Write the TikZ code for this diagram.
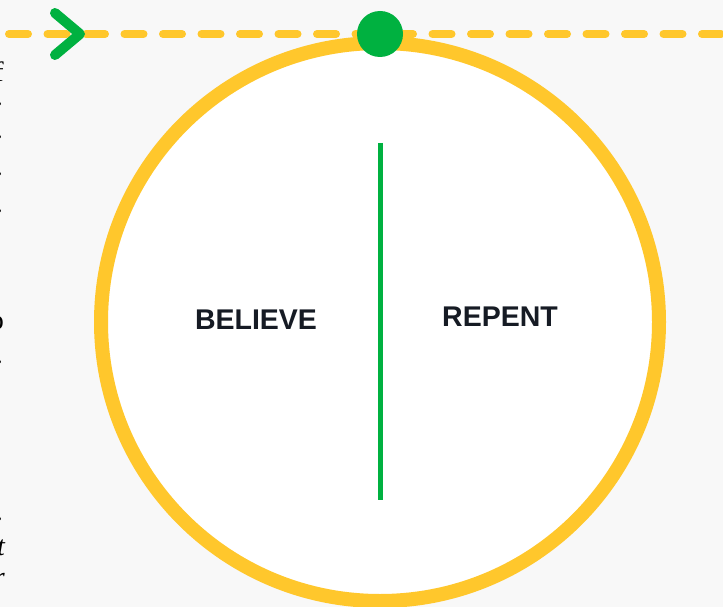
\documentclass[tikz,border=0pt]{standalone}
\usepackage{fontspec}
\setmainfont{Liberation Serif}
\newfontfamily\labelfont{Liberation Sans}
\definecolor{bgc}{HTML}{F8F8F8}
\definecolor{ylw}{HTML}{FFC72C}
\definecolor{grn}{HTML}{00B140}
\definecolor{ink}{HTML}{161B24}
\begin{document}
\begin{tikzpicture}[x=1pt,y=-1pt,
  lbl/.style={font=\labelfont\bfseries\fontsize{28.5}{30}\selectfont, text=ink, inner sep=0pt},
  frag/.style={font=\fontsize{28}{30}\selectfont, anchor=east, inner sep=0pt, text=black}]
\fill[bgc] (0,0) rectangle (723,607);
\useasboundingbox (0,0) rectangle (723,607);
% edge text fragments
\node[frag] (f1) at (4,72) {f};
\node[frag] (f2) at (3,104) {.};
\node[frag] (f3) at (3,137) {.};
\node[frag] (f4) at (3,174) {.};
\node[frag] (f5) at (3,211) {.};
\node[frag] (f6) at (4,323) {o};
\node[frag] (f7) at (3,362) {.};
\node[frag] (f8) at (3,519) {.};
\node[frag,font=\itshape\fontsize{28}{30}\selectfont] (f9) at (5,548) {t};
\node[frag,font=\itshape\fontsize{28}{30}\selectfont] (f10) at (5,580) {r};
% dashed line
\coordinate (ls) at (9,34);
\coordinate (le) at (730,34);
\draw[ylw, line width=8, line cap=round, dash pattern=on 19 off 19.5] (ls) -- (le);
% circle
\node[circle, draw=ylw, fill=white, line width=14, minimum size=558, inner sep=0pt] (c) at (380,322) {};
% green dot
\node[circle, fill=grn, minimum size=46, inner sep=0pt] (dot) at (380,34) {};
% chevron
\coordinate (ch1) at (55,13);
\coordinate (ch2) at (80,34);
\coordinate (ch3) at (55,55);
\draw[grn, line width=10, line cap=round, line join=round] (ch1) -- (ch2) -- (ch3);
% divider
\coordinate (d1) at (380,143);
\coordinate (d2) at (380,500);
\draw[grn, line width=5] (d1) -- (d2);
% labels
\node[lbl] (believe) at (256,320) {BELIEVE};
\node[lbl] (repent) at (500,317) {REPENT};
\end{tikzpicture}
\end{document}
